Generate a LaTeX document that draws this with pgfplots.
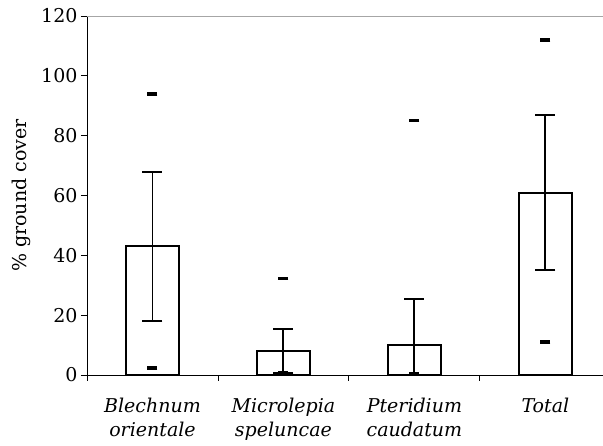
\documentclass[border=0pt]{standalone}
\usepackage{pgfplots}
\pgfplotsset{compat=1.18}
\usepackage{fontspec}
\setmainfont{DejaVu Serif}
\begin{document}
\begin{tikzpicture}
\begin{axis}[
  name=ax,
  scale only axis, width=516pt, height=359pt,
  xmin=-0.5, xmax=3.44, ymin=0, ymax=120,
  axis x line*=bottom, axis y line*=left,
  axis line style={line width=0.9pt, -},
  /pgf/number format/assume math mode=true,
  ytick={0,20,...,120},
  yticklabel style={font=\fontsize{19}{22}\selectfont},
  tick align=outside, major tick length=6pt,
  tick style={black, line width=0.9pt},
  xtick={-0.5,0.5,1.5,2.5},
  xticklabels={},
  extra x ticks={0,1,2,3},
  extra x tick labels={{Blechnum\\orientale},{Microlepia\\speluncae},{Pteridium\\caudatum},{Total}},
  extra x tick style={major tick length=0pt, xticklabel style={align=center, font=\itshape\fontsize{19}{24}\selectfont, yshift=-20pt}},
  ylabel={\% ground cover},
  ylabel style={font=\fontsize{19}{22}\selectfont, at={(axis description cs:-0.128,0.5)}, anchor=center},
  clip=false,
]
\draw[gray!70, line width=0.9pt] (rel axis cs:0,1) -- (rel axis cs:1,1);
\addplot[ybar, bar width=0.4, fill=white, draw=black, line width=2pt,
  error bars/.cd, y dir=both, y explicit,
  error mark=|,
  error bar style={line width=1.9pt, black},
  error mark options={line width=1.9pt, mark size=10pt, black}]
  table[x=x, y=y, y error plus=ep, y error minus=em] {
x y ep em
0 43 25 25
1 8 7.3 7.3
2 10 15.4 10
3 61 26 26
};
\addplot[only marks, mark=-, mark size=5pt, mark options={line width=3.5pt, black}]
  coordinates {(0,94) (0,2.3) (1,32.3) (1,0.6) (2,85) (2,0.3) (3,112) (3,11.1)};
\end{axis}
\pgfresetboundingbox
\path ([shift={(-87pt,-71pt)}]ax.south west) rectangle ([shift={(0pt,16pt)}]ax.north east);
\end{tikzpicture}
\end{document}
